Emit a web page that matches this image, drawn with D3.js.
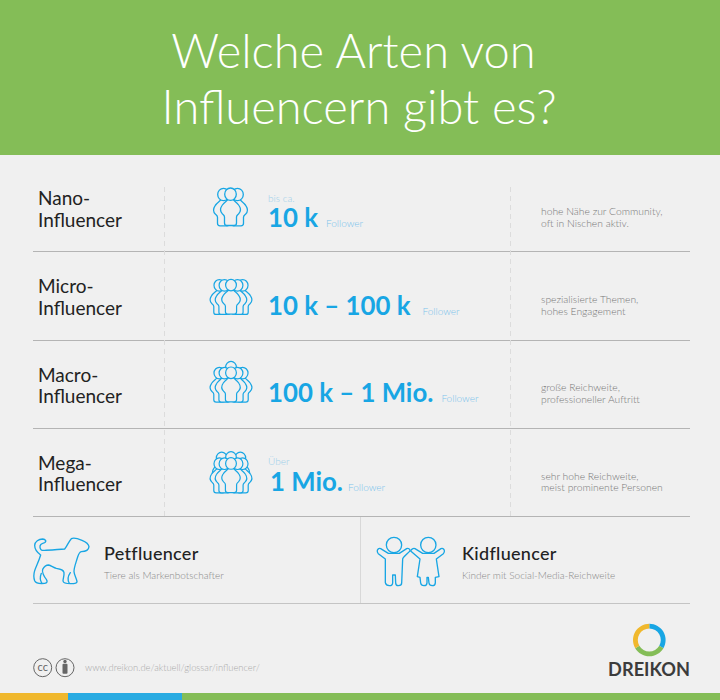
<!DOCTYPE html>
<html lang="de"><head><meta charset="utf-8">
<script src="https://cdn.jsdelivr.net/npm/d3@7"></script>
<style>html,body{margin:0;padding:0;background:#f0f0f0}svg{display:block}text{font-family:Lato,"Open Sans",sans-serif}</style>
</head><body><div id="c"></div>
<script>
const titleLines=["Welche Arten von","Influencern gibt es?"];
const tierFirst=["Nano-","Micro-","Macro-","Mega-"];
const tierSecond=["Influencer","Influencer","Influencer","Influencer"];
const tierPrefix=["bis ca.","","","Über"];
const tierRange=["10 k","10 k – 100 k","100 k – 1 Mio.","1 Mio."];
const tierUnit=["Follower","Follower","Follower","Follower"];
const descFirst=["hohe Nähe zur Community,","spezialisierte Themen,","große Reichweite,","sehr hohe Reichweite,"];
const descSecond=["oft in Nischen aktiv.","hohes Engagement","professioneller Auftritt","meist prominente Personen"];
const specials=["Petfluencer","Kidfluencer"];
const specialDesc=["Tiere als Markenbotschafter","Kinder mit Social-Media-Reichweite"];
const footerUrl="www.dreikon.de/aktuell/glossar/influencer/";
const logoShares=[1,1,1];
const stripeStops=[0,68,182,720];

const W=720,H=700,green="#84bd57",blue="#18a6e4",yellow="#f0b82d",bg="#f0f0f0";
const svg=d3.select("#c").append("svg").attr("width",W).attr("height",H);
svg.append("rect").attr("width",W).attr("height",H).attr("fill",bg);
svg.append("rect").attr("width",W).attr("height",155).attr("fill",green);

const tx=[353.5,359],ty=[68,124];
svg.selectAll(".t").data(titleLines).join("text").attr("x",(d,i)=>tx[i]).attr("y",(d,i)=>ty[i])
 .attr("text-anchor","middle").attr("fill","#fff").attr("font-size",47).attr("font-weight",300).text(d=>d);

const rowY=d3.scaleBand().domain(d3.range(4)).range([163.5,516.5]);
const snap=v=>Math.floor(v)+.5;
[0,1,2,3].forEach(i=>{const y=snap(rowY(i)+rowY.bandwidth());svg.append("line").attr("x1",33).attr("x2",690).attr("y1",y).attr("y2",y).attr("stroke","#b4b4b4");});
svg.append("line").attr("x1",33).attr("x2",690).attr("y1",603.5).attr("y2",603.5).attr("stroke","#c4c4c4").attr("stroke-width",1.2);
[164.5,510.5].forEach(x=>svg.append("line").attr("x1",x).attr("x2",x).attr("y1",187).attr("y2",516).attr("stroke","#dcdcdc").attr("stroke-dasharray","5 4"));
svg.append("line").attr("x1",360.5).attr("x2",360.5).attr("y1",517).attr("y2",603).attr("stroke","#d8d8d8");

// person icon: origin at top of head centre
const person="M-5.8,6.2a5.8,6.2 0 1,1 11.6,0a5.8,6.2 0 1,1 -11.6,0 M-3,12C-4.5,13.5 -7,15 -8.5,17.5C-10.5,20.5 -10,24 -8,26C-6.8,27 -6,27.5 -6,29L-6,35C-6,36.5 -5,37.5 -3.5,37.5L3.5,37.5C5,37.5 6,36.5 6,35L6,29C6,27.5 6.8,27 8,26C10,24 10.5,20.5 8.5,17.5C7,15 4.5,13.5 3,12";
const layers=[
 [[-7,0.3],[7,0.3],[0,0]],
 [[-12.5,0.3],[12.5,0.3],[-7,0.3],[7,0.3],[0,0]],
 [[0,-6],[-12.5,0.3],[12.5,0.3],[-7,0.3],[7,0.3],[0,0]],
 [[-10,-6],[10,-6],[0,-6.5],[-12.5,0.3],[12.5,0.3],[-7,0.3],[7,0.3],[0,0]]
];
const iconTop=[188,279.3,367,457.7];
const iconX=[230.5,231,231,231];
const iconScale=[1,.93,.93,.93];
layers.forEach((l,i)=>{
 const g=svg.append("g").attr("transform",`translate(${iconX[i]},${iconTop[i]}) scale(${iconScale[i]})`);
 g.selectAll("path").data(l).join("path").attr("d",person)
  .attr("transform",d=>`translate(${d[0]},${d[1]})`)
  .attr("fill",bg).attr("stroke",blue).attr("stroke-width",1.3);
});

const bigY=[63.2,63.2,61.7,63.2],preY=[38.5,0,0,36.5];
const rows=svg.selectAll(".row").data(d3.range(4)).join("g").attr("transform",i=>`translate(0,${rowY(i)})`);
rows.append("text").attr("x",38).attr("y",41.5).attr("font-size",19).attr("font-weight",400).attr("fill","#222").text(i=>tierFirst[i]);
rows.append("text").attr("x",38).attr("y",63).attr("font-size",19).attr("font-weight",400).attr("fill","#222").text(i=>tierSecond[i]);
rows.append("text").attr("x",268).attr("y",i=>preY[i]).attr("font-size",10).attr("font-weight",300).attr("fill","#9ccfea").text(i=>tierPrefix[i]);
const big=rows.append("text").attr("x",i=>i==3?270:268).attr("y",i=>bigY[i]).attr("font-size",25.8).attr("font-weight",700).attr("fill",blue).text(i=>tierRange[i]);
rows.append("text").attr("y",i=>bigY[i]).attr("font-size",10).attr("font-weight",300).attr("fill","#7cc4ec")
 .attr("x",function(i){return (i==3?270:268)+big.nodes()[i].getComputedTextLength()+(i==1?12:(i==3?5:8));}).text(i=>tierUnit[i]);
rows.append("text").attr("x",541).attr("y",51.4).attr("font-size",10.3).attr("font-weight",300).attr("fill","#777").text(i=>descFirst[i]);
rows.append("text").attr("x",541).attr("y",63).attr("font-size",10.3).attr("font-weight",300).attr("fill","#777").text(i=>descSecond[i]);

// specials
const sx=[104,462];
const sp=svg.selectAll(".s").data(specials).join("g");
sp.append("text").attr("x",(d,i)=>sx[i]).attr("y",560).attr("font-size",18).attr("font-weight",500).attr("fill","#222").attr("letter-spacing",.3).text(d=>d);
sp.append("text").attr("x",(d,i)=>sx[i]).attr("y",578.5).attr("font-size",10).attr("font-weight",300).attr("fill","#888").text((d,i)=>specialDesc[i]);

// dog icon
svg.append("path").attr("transform","translate(28,530) scale(.3333)").attr("fill","none").attr("stroke",blue).attr("stroke-width",4)
 .attr("stroke-linejoin","round").attr("stroke-linecap","round")
 .attr("d","M38,75C28,68 20,58 20,46C21,34 32,27 44,27C52,28 57,34 50,38C42,40 35,45 36,52C37,60 42,62 50,61C70,60 92,59 110,57C118,48 122,34 130,26C138,22 150,26 162,31C172,35 182,42 183,50C182,60 172,65 160,65C154,66 151,74 148,84C144,98 138,112 138,125C139,136 146,146 147,155C147,160 142,161 128,161C114,161 106,160 105,153C105,146 109,138 108,128C107,120 100,118 85,115C76,112 68,106 62,105C54,105 48,110 44,118C41,126 48,140 55,148C59,154 58,160 50,160C40,161 24,161 20,152C17,144 17,132 20,122C25,108 32,95 38,75Z M40,130C36,140 36,152 42,160 M127,128C120,138 118,150 124,160");

// kids icon
const kid=svg.append("g").attr("transform","translate(360,515) scale(.3333)").attr("fill","none").attr("stroke",blue).attr("stroke-width",4).attr("stroke-linejoin","round");
kid.append("circle").attr("cx",102).attr("cy",90).attr("r",23);
kid.append("circle").attr("cx",205).attr("cy",90).attr("r",23);
kid.append("path").attr("d","M52,106C54,101 58,99 62,101L85,115L118,115L140,101C145,99 150,102 150,107C149,111 130,125 128,132L125,204C125,210 120,212 115,212C108,212 107,208 107,203L106,180L98,180L98,203C98,209 93,212 88,212C80,212 77,208 76,203L76,132L55,116C52,113 51,110 52,106Z");
kid.append("path").attr("d","M253,106C251,101 247,99 243,101L222,115L188,115L165,101C160,99 154,102 152,108L180,132L172,185L180,187L182,204C183,210 187,212 192,212C198,212 201,208 201,203L201,187L205,187L207,204C208,210 212,212 217,212C223,212 226,208 226,203L226,187L237,185L229,132L250,116C253,113 254,110 253,106Z");

// footer
const cc=svg.append("g").attr("fill","none").attr("stroke","#666").attr("stroke-width",1);
cc.append("circle").attr("cx",42.7).attr("cy",667.7).attr("r",9);
cc.append("circle").attr("cx",65).attr("cy",667.7).attr("r",9);
svg.append("text").attr("x",42.7).attr("y",671).attr("text-anchor","middle").attr("font-size",11).attr("font-weight",400).attr("fill","#666").text("cc");
svg.append("circle").attr("cx",65).attr("cy",661.5).attr("r",1.7).attr("fill","#666");
svg.append("rect").attr("x",62.5).attr("y",663.8).attr("width",5).attr("height",10).attr("rx",1).attr("fill","#666");
svg.append("text").attr("x",85).attr("y",670.7).attr("font-size",9.4).attr("font-weight",300).attr("fill","#aaa").text(footerUrl);

// logo
const pie=d3.pie().sort(null)(logoShares);
const arc=d3.arc().innerRadius(11.5).outerRadius(16.3);
svg.append("g").attr("transform","translate(649.3,640)").selectAll("path").data(pie).join("path").attr("d",arc).attr("fill",(d,i)=>[blue,green,yellow][i]);
svg.append("text").attr("x",690).attr("y",675.7).attr("text-anchor","end").attr("font-size",18.2).attr("font-weight",700).attr("fill","#3c3c3c").text("DREIKON");

// bottom stripe
const stripeCols=[yellow,"#29abe2",green];
stripeCols.forEach((c,i)=>svg.append("rect").attr("x",stripeStops[i]).attr("y",693).attr("width",stripeStops[i+1]-stripeStops[i]).attr("height",7).attr("fill",c));
</script></body></html>
